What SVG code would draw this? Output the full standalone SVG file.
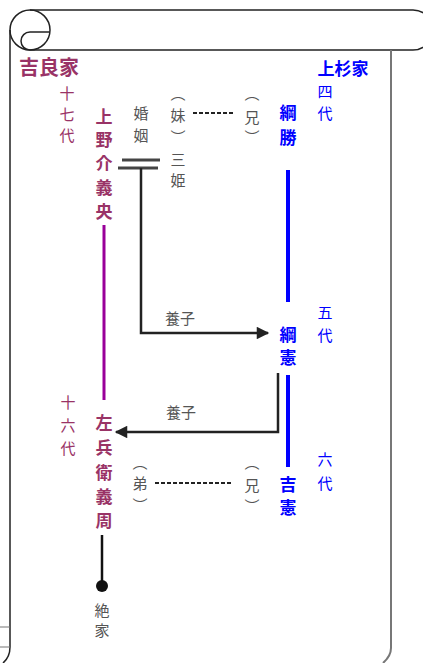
<svg xmlns="http://www.w3.org/2000/svg" width="423" height="663" viewBox="0 0 423 663">
<style>
text{font-family:"Noto Sans CJK JP","Noto Sans CJK SC",sans-serif;text-anchor:middle}
.kira{fill:#993366;font-size:15px}
.kiraB{fill:#993366;font-size:17px;font-weight:bold}
.hd{font-size:20px;font-weight:bold}
.ue{fill:#0000ff;font-size:15px}
.ueB{fill:#0000ff;font-size:17px;font-weight:bold}
.g{fill:#555;font-size:15px}
.frame{fill:none;stroke:#222;stroke-width:1.5}
.dash{stroke:#222;stroke-width:2;stroke-dasharray:4 2;fill:none}
.blk{stroke:#222;stroke-width:2.5;fill:none}
.blue{stroke:#0000ff;stroke-width:4}
.purple{stroke:#990099;stroke-width:3}
</style>
<defs>
<marker id="arr" viewBox="0 0 10 10" refX="9" refY="5" markerWidth="6" markerHeight="5" orient="auto" markerUnits="strokeWidth">
<path d="M0,0 L10,5 L0,10 z" fill="#222"/>
</marker>
</defs>
<rect width="423" height="663" fill="#fff"/>
<g id="scroll">
<path class="frame" d="M30,10 H413 A20,20 0 0 1 413,50 H30"/>
<circle class="frame" cx="30" cy="30" r="20"/>
<path class="frame" d="M30,50 A9,9 0 0 1 30,32 H49.5"/>
<path class="frame" d="M10,30 V647 Q10,657 3,663"/>
<path d="M391,50 V648 Q391,656 383,663" fill="none" stroke="#777" stroke-width="2"/>
<path d="M0,627 H10 M0,647 H10" stroke="#777" stroke-width="1.2"/>
</g>
<g id="connectors">
<line class="purple" x1="104" y1="225" x2="104" y2="400"/>
<line class="blue" x1="288" y1="170" x2="288" y2="302"/>
<line class="blue" x1="288" y1="375" x2="288" y2="467"/>
<line class="dash" x1="193" y1="113" x2="235" y2="113"/>
<line class="dash" x1="155" y1="483" x2="233" y2="483"/>
<path d="M122,160 H160 M118,168 H158" stroke="#444" stroke-width="3" fill="none"/>
<path class="blk" d="M141,168 V333 H268" marker-end="url(#arr)"/>
<path class="blk" d="M278,373 V432 H116" marker-end="url(#arr)"/>
<line x1="102" y1="535" x2="102" y2="585" stroke="#111" stroke-width="2.5"/>
<circle cx="102" cy="586" r="6" fill="#111"/>
</g>
<g id="kira-house"><text class="kiraB hd" x="49" y="75">吉良家</text></g>
<g id="uesugi-house"><text class="ueB hd" x="343" y="75">上杉家</text></g>
<g id="gen17"><text class="kira"><tspan x="67" y="99">十</tspan><tspan x="67" y="120">七</tspan><tspan x="67" y="141">代</tspan></text></g>
<g id="yoshihisa"><text class="kiraB"><tspan x="104" y="123">上</tspan><tspan x="104" y="146">野</tspan><tspan x="104" y="170">介</tspan><tspan x="104" y="194">義</tspan><tspan x="104" y="218">央</tspan></text></g>
<g id="marriage"><text class="g"><tspan x="141" y="119">婚</tspan><tspan x="141" y="141">姻</tspan></text></g>
<g id="sanhime"><text class="g"><tspan x="178" y="99">︵</tspan><tspan x="178" y="121">妹</tspan><tspan x="178" y="143">︶</tspan><tspan x="178" y="165">三</tspan><tspan x="178" y="186">姫</tspan></text></g>
<g id="ani1"><text class="g"><tspan x="252" y="99">︵</tspan><tspan x="252" y="123">兄</tspan><tspan x="252" y="143">︶</tspan></text></g>
<g id="tsunakatsu"><text class="ueB"><tspan x="288" y="119">綱</tspan><tspan x="288" y="144">勝</tspan></text></g>
<g id="gen4"><text class="ue"><tspan x="325" y="97">四</tspan><tspan x="325" y="119">代</tspan></text></g>
<g id="gen5"><text class="ue"><tspan x="325" y="318">五</tspan><tspan x="325" y="341">代</tspan></text></g>
<g id="tsunanori"><text class="ueB"><tspan x="288" y="341">綱</tspan><tspan x="288" y="364">憲</tspan></text></g>
<g id="gen6"><text class="ue"><tspan x="325" y="465">六</tspan><tspan x="325" y="489">代</tspan></text></g>
<g id="yoshinori"><text class="ueB"><tspan x="288" y="491">吉</tspan><tspan x="288" y="514">憲</tspan></text></g>
<g id="ani2"><text class="g"><tspan x="252" y="468">︵</tspan><tspan x="252" y="491">兄</tspan><tspan x="252" y="512">︶</tspan></text></g>
<g id="otouto"><text class="g"><tspan x="140" y="468">︵</tspan><tspan x="140" y="489">弟</tspan><tspan x="140" y="511">︶</tspan></text></g>
<g id="gen16"><text class="kira"><tspan x="68" y="408">十</tspan><tspan x="68" y="431">六</tspan><tspan x="68" y="454">代</tspan></text></g>
<g id="yoshichika"><text class="kiraB"><tspan x="104" y="429">左</tspan><tspan x="104" y="454">兵</tspan><tspan x="104" y="479">衛</tspan><tspan x="104" y="503">義</tspan><tspan x="104" y="527">周</tspan></text></g>
<g id="zekke"><text class="g"><tspan x="102" y="616">絶</tspan><tspan x="102" y="636">家</tspan></text></g>
<g id="adopt1"><text class="g" x="180" y="324">養子</text></g>
<g id="adopt2"><text class="g" x="181" y="418">養子</text></g>
</svg>
